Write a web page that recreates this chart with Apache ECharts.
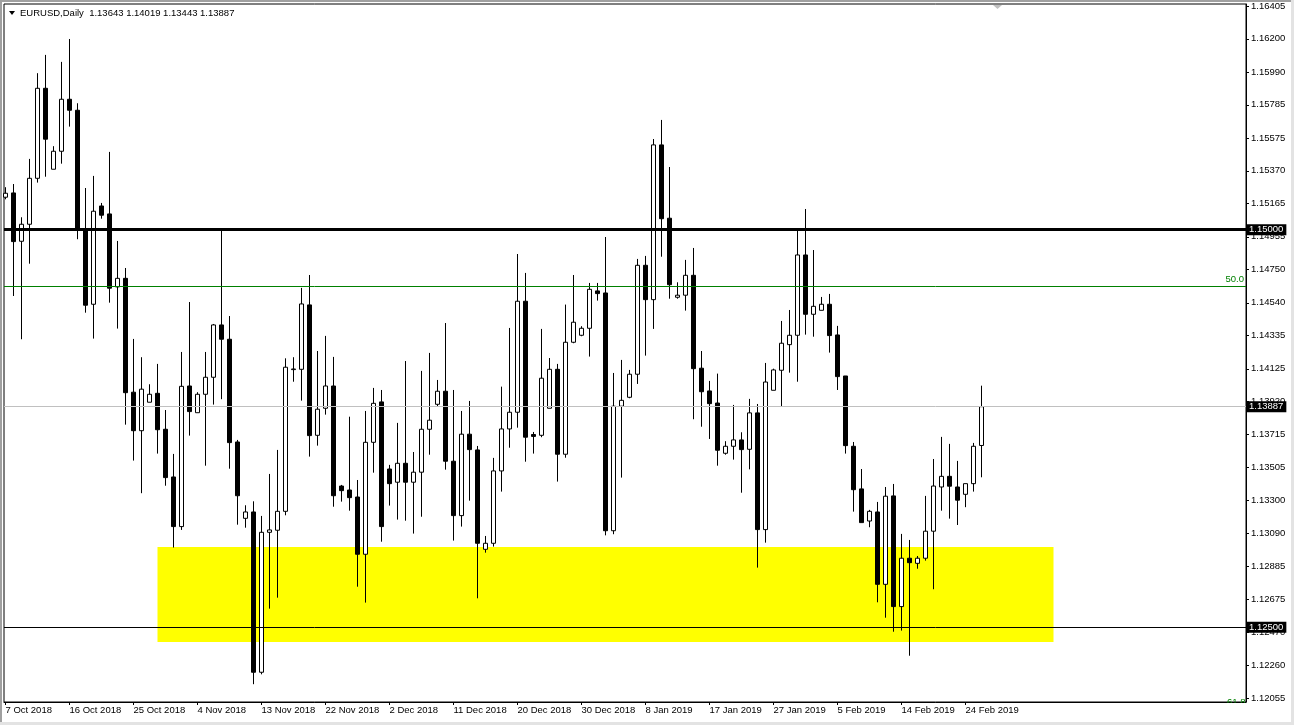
<!DOCTYPE html>
<html>
<head>
<meta charset="utf-8">
<script src="https://cdn.jsdelivr.net/npm/echarts@6/dist/echarts.min.js"></script>
<style>
html,body{margin:0;padding:0;background:#fff;}
#chart{width:1294px;height:725px;}
</style>
</head>
<body>
<div id="chart"></div>
<script>
// ---- data (EURUSD Daily, 7 Oct 2018 .. 26 Feb 2019, 6 bars per week) ----
const opens = [
1.15204,1.15231,1.14927,1.15034,1.15323,1.15889,1.15380,1.15493,1.15820,1.15751,
1.14998,1.14531,1.15149,1.15099,1.14640,1.14694,1.13978,1.13736,1.13915,1.13971,
1.13745,1.13445,1.13133,1.14017,1.13849,1.13965,1.14072,1.14401,1.14311,1.13665,
1.13185,1.13225,1.12217,1.13097,1.13110,1.13229,1.14120,1.14122,1.14527,1.13707,
1.13877,1.14017,1.13388,1.13363,1.13319,1.12959,1.13663,1.13917,1.13495,1.13412,
1.13531,1.13412,1.13475,1.13745,1.13902,1.13984,1.13544,1.13202,1.13714,1.13615,
1.12990,1.13028,1.13483,1.13747,1.13852,1.14550,1.13712,1.13707,1.13877,1.14122,
1.13588,1.14292,1.14336,1.14380,1.14615,1.14602,1.13107,1.13890,1.13946,1.14091,
1.14776,1.14560,1.15533,1.15072,1.14575,1.14588,1.14713,1.14129,1.13986,1.13910,
1.13594,1.13638,1.13678,1.13619,1.13848,1.13114,1.13990,1.14116,1.14277,1.14336,
1.14841,1.14468,1.14493,1.14531,1.14338,1.14080,1.13638,1.13370,1.13168,1.13225,
1.12770,1.13326,1.12630,1.12934,1.12902,1.12934,1.13104,1.13382,1.13449,1.13382,
1.13336,1.13403,1.13643];
const highs = [
1.15267,1.15287,1.15078,1.15445,1.15984,1.16099,1.15525,1.16055,1.16199,1.15795,
1.15262,1.15338,1.15168,1.15489,1.14929,1.14759,1.14313,1.14198,1.14028,1.14156,
1.13866,1.13590,1.14231,1.14545,1.13978,1.14231,1.14407,1.14994,1.14457,1.13678,
1.13267,1.13292,1.13200,1.13464,1.13615,1.14191,1.14198,1.14634,1.14715,1.14237,
1.14332,1.14200,1.13395,1.13824,1.13426,1.13860,1.14005,1.13992,1.13521,1.13785,
1.14174,1.13602,1.14112,1.14225,1.14055,1.14413,1.13992,1.13860,1.13923,1.13640,
1.13074,1.13565,1.14013,1.14382,1.14847,1.14728,1.13728,1.14376,1.14193,1.14156,
1.14529,1.14715,1.14393,1.14665,1.14665,1.14954,1.14099,1.14181,1.14118,1.14816,
1.14835,1.15570,1.15690,1.15394,1.14669,1.14810,1.14885,1.14237,1.14049,1.14095,
1.13670,1.13898,1.13726,1.13936,1.13904,1.14162,1.14126,1.14426,1.14495,1.14994,
1.15130,1.14872,1.14577,1.14596,1.14395,1.14080,1.13665,1.13495,1.13238,1.13288,
1.13382,1.13401,1.13087,1.13049,1.12948,1.13326,1.13558,1.13697,1.13653,1.13546,
1.13403,1.13659,1.14019];
const lows = [
1.15191,1.14583,1.14311,1.14786,1.15296,1.15333,1.15380,1.15415,1.15648,1.14940,
1.14478,1.14315,1.15069,1.14541,1.14378,1.13774,1.13548,1.13343,1.13915,1.13592,
1.13390,1.13001,1.13112,1.13705,1.13849,1.13516,1.13900,1.13934,1.13497,1.13145,
1.13126,1.12142,1.12204,1.12617,1.12686,1.13204,1.14044,1.13925,1.13573,1.13642,
1.13837,1.13258,1.13290,1.13233,1.12755,1.12655,1.13472,1.13038,1.13265,1.13177,
1.13170,1.13089,1.13195,1.13585,1.13887,1.13491,1.13045,1.13133,1.13296,1.12682,
1.12969,1.13007,1.13353,1.13629,1.13755,1.13541,1.13592,1.13695,1.13877,1.13416,
1.13566,1.14286,1.14330,1.14202,1.14554,1.13078,1.13085,1.13441,1.13940,1.14030,
1.14208,1.14376,1.14830,1.14566,1.14566,1.14491,1.13808,1.13761,1.13684,1.13516,
1.13585,1.13554,1.13346,1.13493,1.12875,1.13032,1.13990,1.13887,1.14101,1.14044,
1.14340,1.14327,1.14493,1.14227,1.13992,1.13592,1.13227,1.13158,1.13129,1.12657,
1.12560,1.12472,1.12479,1.12321,1.12868,1.12919,1.12739,1.13233,1.13183,1.13143,
1.13255,1.13353,1.13443];
const closes = [
1.15229,1.14925,1.15034,1.15323,1.15889,1.15569,1.15493,1.15820,1.15751,1.14998,
1.14525,1.15116,1.15091,1.14632,1.14694,1.13975,1.13736,1.13997,1.13965,1.13742,
1.13441,1.13133,1.14015,1.13856,1.13965,1.14072,1.14401,1.14311,1.13661,1.13327,
1.13225,1.12217,1.13097,1.13112,1.13229,1.14135,1.14124,1.14533,1.13705,1.13871,
1.14017,1.13327,1.13359,1.13315,1.12959,1.13663,1.13908,1.13133,1.13403,1.13531,
1.13412,1.13475,1.13745,1.13802,1.13984,1.13544,1.13202,1.13714,1.13617,1.13028,
1.13028,1.13483,1.13747,1.13852,1.14550,1.13695,1.13700,1.14066,1.14122,1.13588,
1.14292,1.14418,1.14380,1.14625,1.14598,1.13107,1.13890,1.13927,1.14091,1.14776,
1.14560,1.15533,1.15069,1.14654,1.14588,1.14713,1.14126,1.13981,1.13906,1.13613,
1.13638,1.13678,1.13617,1.13848,1.13114,1.14042,1.14118,1.14286,1.14336,1.14841,
1.14468,1.14518,1.14531,1.14334,1.14076,1.13642,1.13365,1.13158,1.13229,1.12770,
1.13324,1.12630,1.12934,1.12906,1.12934,1.13104,1.13388,1.13449,1.13387,1.13299,
1.13403,1.13638,1.13887];

const dateTickBars = [0,8,16,24,32,40,48,56,64,72,80,88,96,104,112,120];
const dateLabels = ['7 Oct 2018','16 Oct 2018','25 Oct 2018','4 Nov 2018','13 Nov 2018','22 Nov 2018',
  '2 Dec 2018','11 Dec 2018','20 Dec 2018','30 Dec 2018','8 Jan 2019','17 Jan 2019','27 Jan 2019',
  '5 Feb 2019','14 Feb 2019','24 Feb 2019'];
const priceTicks = [1.16405,1.16200,1.15990,1.15785,1.15575,1.15370,1.15165,1.14955,1.14750,1.14540,
  1.14335,1.14125,1.13920,1.13715,1.13505,1.13300,1.13090,1.12885,1.12675,1.12470,1.12260,1.12055];

const headerText = 'EURUSD,Daily  1.13643 1.14019 1.13443 1.13887';
const bidPrice = 1.13887;
const levelThick = 1.15000;
const levelThin = 1.12500;
const fib50Price = 1.14646;
const zonePrices = [1.13005, 1.12408];
const zoneBars = [19, 131];
const priceMin = 1.12030, priceMax = 1.16419;

// ---- chart ----
const FONT = '"Liberation Sans", Arial, sans-serif';
const candleData = opens.map((o, i) => [i, o, closes[i], lows[i], highs[i]]);
const boxLabel = (txt) => ({
  show: true, position: 'end', distance: 1, formatter: txt,
  backgroundColor: '#000', color: '#fff', padding: [1, 3, 0, 2],
  fontSize: 9.5, fontFamily: FONT
});
const hiddenPoint = [[-50, bidPrice]];

const chart = echarts.init(document.getElementById('chart'), null, {renderer: 'canvas'});
chart.setOption({
  animation: false,
  backgroundColor: '#fff',
  grid: {left: 4, top: 4, right: 48, bottom: 23, show: true, borderColor: '#000', borderWidth: 1, backgroundColor: '#fff'},
  xAxis: {
    type: 'value', min: -0.1875, max: 155.0625,
    axisLine: {show: true, onZero: false, lineStyle: {color: '#000', width: 1}},
    splitLine: {show: false},
    axisTick: {show: true, customValues: dateTickBars, length: 3, lineStyle: {color: '#000'}},
    axisLabel: {
      customValues: dateTickBars,
      formatter: (v) => dateLabels[dateTickBars.indexOf(Math.round(v))],
      align: 'left', margin: 3, fontSize: 9.5, fontFamily: FONT, color: '#000'
    }
  },
  yAxis: {
    type: 'value', position: 'right', min: priceMin, max: priceMax, scale: true,
    axisLine: {show: true, onZero: false, lineStyle: {color: '#000', width: 1}},
    splitLine: {show: false},
    axisTick: {show: true, customValues: priceTicks, length: 3, lineStyle: {color: '#000'}},
    axisLabel: {
      customValues: priceTicks,
      formatter: (v) => v.toFixed(5),
      margin: 5, fontSize: 9.5, fontFamily: FONT, color: '#000'
    }
  },
  series: [
    {
      type: 'line', name: 'zone', data: hiddenPoint, showSymbol: false, silent: true, z: 1,
      lineStyle: {width: 0}, clip: true,
      markArea: {
        silent: true, precision: 5,
        itemStyle: {color: '#ffff00', opacity: 1},
        data: [[{xAxis: zoneBars[0], yAxis: zonePrices[0]}, {xAxis: zoneBars[1], yAxis: zonePrices[1]}]]
      }
    },
    {
      type: 'line', name: 'bid', data: hiddenPoint, showSymbol: false, silent: true, z: 2,
      lineStyle: {width: 0}, clip: true,
      markLine: {
        silent: true, symbol: ['none', 'none'], animation: false, precision: 5,
        data: [{yAxis: bidPrice, lineStyle: {color: '#c0c0c0', width: 1, type: 'solid'}, label: boxLabel(bidPrice.toFixed(5))}]
      }
    },
    {
      type: 'candlestick', name: 'EURUSD', z: 3,
      data: candleData,
      barWidth: 4,
      clip: true,
      itemStyle: {color: '#fff', color0: '#000', borderColor: '#000', borderColor0: '#000', borderWidth: 1},
      emphasis: {disabled: true}
    },
    {
      type: 'line', name: 'levels', data: hiddenPoint, showSymbol: false, silent: true, z: 4,
      lineStyle: {width: 0}, clip: true,
      markLine: {
        silent: true, symbol: ['none', 'none'], animation: false, precision: 5,
        data: [
          {yAxis: fib50Price, lineStyle: {color: '#008000', width: 1, type: 'solid'},
            label: {show: true, position: 'insideEndTop', distance: 2, formatter: '50.0', color: '#008000', fontSize: 9.5, fontFamily: FONT}},
          {yAxis: levelThin, lineStyle: {color: '#000', width: 1, type: 'solid'}, label: boxLabel(levelThin.toFixed(5))},
          {yAxis: levelThick, lineStyle: {color: '#000', width: 3, type: 'solid'}, label: boxLabel(levelThick.toFixed(5))}
        ]
      }
    }
  ],
  graphic: [
    {type: 'rect', shape: {x: 0, y: 0, width: 2, height: 725}, style: {fill: '#a0a0a0'}, z: 100},
    {type: 'rect', shape: {x: 0, y: 0, width: 1294, height: 2}, style: {fill: '#a0a0a0'}, z: 100},
    {type: 'rect', shape: {x: 0, y: 722, width: 1294, height: 3}, style: {fill: '#e3e3e3'}, z: 100},
    {type: 'rect', shape: {x: 1291, y: 0, width: 3, height: 725}, style: {fill: '#e3e3e3'}, z: 100},
    {type: 'polygon', shape: {points: [[9, 11], [15, 11], [12, 15]]}, style: {fill: '#000'}, z: 100},
    {type: 'text', x: 20, y: 13, style: {text: headerText, fill: '#000', font: '9.5px ' + FONT, textVerticalAlign: 'middle'}, z: 100},
    {type: 'polygon', shape: {points: [[993, 5], [1002, 5], [997.5, 9]]}, style: {fill: '#c0c0c0'}, z: 100},
    {type: 'text', x: 1227, y: 697, style: {text: '61.8', fill: '#008000', font: '9.5px ' + FONT, textVerticalAlign: 'top'}, z: 100},
    {type: 'rect', shape: {x: 1215, y: 703, width: 31, height: 12}, style: {fill: '#fff'}, z: 101}
  ]
});
</script>
</body>
</html>
